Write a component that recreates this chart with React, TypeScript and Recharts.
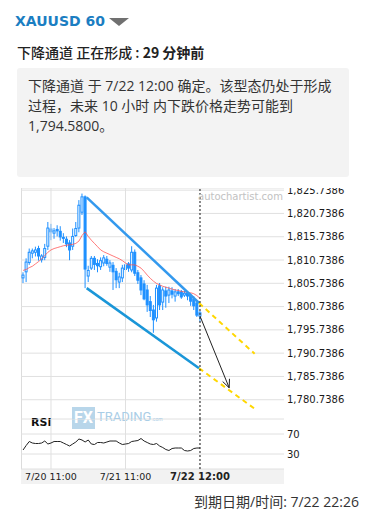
import React from "react";
import {
  ComposedChart,
  Bar,
  Line,
  XAxis,
  YAxis,
  CartesianGrid,
  ReferenceLine,
} from "recharts";

const BLUE = "#1e90ff";
const GRID = "#e0e0e0";
const AXIS_FONT = "DejaVu Sans, sans-serif";

// hourly candles, index 0 = 7/20 02:00
const OPEN = [1806.9, 1808.2, 1810.2, 1812.2, 1812.4, 1813.2, 1810.8, 1811.3, 1813.7, 1817.4, 1816.5, 1817.3, 1816.9, 1815.6, 1815.2, 1814.4, 1813.7, 1816.0, 1817.6, 1821.0, 1824.3, 1807.3, 1809.0, 1811.1, 1810.0, 1809.3, 1810.1, 1810.9, 1809.2, 1809.6, 1808.3, 1806.0, 1806.9, 1808.7, 1809.9, 1808.6, 1812.4, 1808.0, 1806.9, 1805.6, 1804.3, 1801.8, 1800.0, 1798.3, 1805.2, 1801.7, 1804.1, 1803.2, 1804.1, 1803.0, 1803.9, 1803.9, 1803.2, 1803.6, 1803.2, 1802.3, 1801.5, 1798.7];
const HIGH = [1808.1, 1811.1, 1813.2, 1813.2, 1813.6, 1813.8, 1812.0, 1814.2, 1818.9, 1818.5, 1817.6, 1818.2, 1818.0, 1816.5, 1815.8, 1815.0, 1817.5, 1818.9, 1823.6, 1825.0, 1824.6, 1809.5, 1811.6, 1811.6, 1810.9, 1811.3, 1811.8, 1811.6, 1810.7, 1810.3, 1809.0, 1808.0, 1809.7, 1810.2, 1810.3, 1813.7, 1813.0, 1808.6, 1807.5, 1806.4, 1805.4, 1803.0, 1801.1, 1805.4, 1805.8, 1804.9, 1805.0, 1805.0, 1804.9, 1804.5, 1804.5, 1804.3, 1804.1, 1804.0, 1803.6, 1803.0, 1802.1, 1799.8];
const LOW = [1805.8, 1806.0, 1809.7, 1811.1, 1811.5, 1810.6, 1810.2, 1810.7, 1812.9, 1815.0, 1815.3, 1815.8, 1814.9, 1814.4, 1813.5, 1810.7, 1812.9, 1815.7, 1816.7, 1820.4, 1804.7, 1806.0, 1808.6, 1808.6, 1808.1, 1808.6, 1809.4, 1809.5, 1808.2, 1804.3, 1804.7, 1804.7, 1806.0, 1808.0, 1808.2, 1808.1, 1807.3, 1805.6, 1803.2, 1802.1, 1799.6, 1798.5, 1795.1, 1797.5, 1800.0, 1800.0, 1800.5, 1801.5, 1802.5, 1801.8, 1803.0, 1802.4, 1802.8, 1802.1, 1800.9, 1800.0, 1798.5, 1797.5];
const CLOSE = [1807.5, 1810.3, 1812.4, 1812.7, 1812.9, 1811.6, 1811.6, 1813.2, 1817.6, 1816.8, 1817.0, 1817.0, 1815.7, 1815.4, 1814.2, 1812.9, 1815.8, 1817.5, 1822.5, 1824.3, 1808.8, 1808.5, 1811.1, 1809.8, 1809.5, 1810.6, 1811.2, 1810.0, 1810.1, 1808.2, 1806.5, 1807.1, 1809.0, 1809.7, 1809.0, 1812.4, 1807.9, 1806.4, 1804.3, 1802.4, 1801.1, 1799.9, 1797.9, 1804.7, 1801.1, 1804.3, 1803.0, 1804.3, 1803.4, 1803.9, 1803.5, 1802.8, 1803.6, 1803.0, 1801.9, 1800.9, 1798.9, 1799.4];
const MA = [1808.5, 1808.7, 1809.1, 1809.4, 1809.9, 1810.4, 1811.0, 1811.7, 1812.4, 1812.9, 1813.2, 1813.4, 1813.6, 1813.8, 1813.9, 1814.0, 1814.1, 1814.3, 1814.8, 1816.0, 1816.8, 1815.8, 1815.0, 1814.3, 1813.6, 1812.9, 1812.5, 1812.2, 1811.9, 1811.6, 1811.3, 1811.0, 1810.6, 1810.1, 1809.7, 1809.7, 1809.7, 1809.4, 1809.0, 1808.3, 1807.5, 1806.8, 1806.2, 1805.7, 1805.4, 1805.1, 1804.9, 1804.7, 1804.5, 1804.3, 1804.2, 1804.0, 1803.9, 1803.8, 1803.7, 1803.5, 1803.1, 1802.5];
const RSI = [38, 47, 55, 52, 51, 51, 52, 56, 50, 52, 55, 55, 55, 52, 49, 46, 50, 54, 60, 58, 54, 58, 50, 49, 53, 53, 52, 54, 56, 56, 56, 52, 49, 50, 51, 55, 56, 57, 61, 56, 53, 50, 49, 51, 46, 43, 39, 37, 41, 42, 42, 42, 37, 36, 37, 41, 42, 42];

const PRICE_TICKS = [1780.7386, 1785.7386, 1790.7386, 1795.7386, 1800.7386, 1805.7386, 1810.7386, 1815.7386, 1820.7386, 1825.7386];
const RSI_TICKS = [30, 70];
const TIME_TICKS = [9, 33, 57];
const TIME_LABELS = ["7/20 11:00", "7/21 11:00", "7/22 12:00"];
const DAY_LINES = [9, 33];
const NOW = 57;

const CHANNEL_UPPER = [{ t: 20.5, p: 1824.2 }, { t: 56.7, p: 1801.5 }];
const CHANNEL_LOWER = [{ t: 20.5, p: 1804.7 }, { t: 56.7, p: 1787.5 }];
const PROJ_UPPER = [{ t: 56.7, p: 1801.5 }, { t: 74.6, p: 1790.6 }];
const PROJ_LOWER = [{ t: 56.7, p: 1787.5 }, { t: 74.6, p: 1778.8 }];
const FORECAST = [{ t: 57, p: 1798.7 }, { t: 66.4, p: 1783.3 }];

const X_DOMAIN = [-0.66, 84.06];

const data = OPEN.map((o, i) => ({
  t: i,
  open: o,
  high: HIGH[i],
  low: LOW[i],
  close: CLOSE[i],
  range: [LOW[i], HIGH[i]],
  ma: MA[i],
  rsi: RSI[i],
}));

const seg = (pts: { t: number; p: number }[]) => pts.map((d) => ({ x: d.t, y: d.p }));

const Candle = (props: any) => {
  const { x, y, width, height, payload } = props;
  if (x == null || !payload) return null;
  const top0 = Math.min(y, y + height);
  const h = Math.abs(height);
  const { open, close, high, low } = payload;
  const k = h / (high - low || 1);
  const bTop = top0 + (high - Math.max(open, close)) * k;
  const bBot = top0 + (high - Math.min(open, close)) * k;
  const cx = x + width / 2;
  const up = close >= open;
  return (
    <g>
      <line x1={cx} x2={cx} y1={top0} y2={top0 + h} stroke={BLUE} strokeWidth={1} />
      <rect
        x={x + 0.5}
        y={bTop}
        width={width - 1}
        height={Math.max(bBot - bTop, 1)}
        fill={up ? "#fff" : BLUE}
        stroke={BLUE}
        strokeWidth={1}
      />
    </g>
  );
};

const Arrow = (props: any) => {
  const { x1, y1, x2, y2 } = props;
  const a = Math.atan2(y2 - y1, x2 - x1);
  const len = 9;
  const s = 0.42;
  const p1 = [x2 - len * Math.cos(a - s), y2 - len * Math.sin(a - s)];
  const p2 = [x2 - len * Math.cos(a + s), y2 - len * Math.sin(a + s)];
  return (
    <g>
      <line x1={x1} y1={y1} x2={x2} y2={y2} stroke="#222" strokeWidth={1} />
      <polyline
        points={`${p1[0]},${p1[1]} ${x2},${y2} ${p2[0]},${p2[1]}`}
        fill="none"
        stroke="#222"
        strokeWidth={1}
      />
    </g>
  );
};

const TimeTick = (props: any) => {
  const { x, y, payload } = props;
  const i = TIME_TICKS.indexOf(payload.value);
  const bold = payload.value === NOW;
  return (
    <text
      x={x}
      y={y + 11}
      textAnchor="middle"
      fontSize={bold ? 10 : 9.5}
      fontWeight={bold ? 700 : 400}
      fill="#222"
      fontFamily={AXIS_FONT}
    >
      {TIME_LABELS[i]}
    </text>
  );
};

const fmtPrice = (v: number) =>
  v.toLocaleString("en-US", { minimumFractionDigits: 4, maximumFractionDigits: 4 });

export default function App() {
  return (
    <div
      style={{
        position: "absolute",
        left: 0,
        top: 0,
        width: 374,
        height: 529,
        overflow: "hidden",
        background: "#fff",
        fontFamily: '"Open Sans", "Noto Sans CJK SC", sans-serif',
      }}
    >
      <div
        style={{
          position: "absolute",
          left: 15,
          top: 11,
          fontSize: 14,
          fontWeight: 700,
          color: "#1b7ec2",
          lineHeight: "20px",
          whiteSpace: "nowrap",
          fontFamily: AXIS_FONT,
        }}
      >
        XAUUSD 60
      </div>
      <svg style={{ position: "absolute", left: 109, top: 18 }} width={20} height={9}>
        <polygon points="0,0 20,0 10,8" fill="#707070" />
      </svg>
      <div
        style={{
          position: "absolute",
          left: 17,
          top: 42,
          fontSize: 14,
          color: "#222",
          lineHeight: "20px",
          whiteSpace: "nowrap",
          fontFamily: '"Noto Sans CJK SC", sans-serif',
        }}
      >
        <span style={{ fontWeight: 500 }}>下降通道 正在形成 : </span>
        <span style={{ fontWeight: 700 }}>29 分钟前</span>
      </div>
      <div
        style={{
          position: "absolute",
          left: 17,
          top: 68,
          width: 332,
          height: 109,
          background: "#f3f3f3",
          borderRadius: 3,
          boxSizing: "border-box",
          padding: "8px 0 0 11px",
          fontSize: 14,
          lineHeight: "20px",
          color: "#333",
          whiteSpace: "nowrap",
        }}
      >
        下降通道 于 7/22 12:00 确定。该型态仍处于形成
        <br />
        过程，未来 10 小时 内下跌价格走势可能到
        <br />
        1,794.5800。
      </div>

      {/* chart frame */}
      <div
        style={{
          position: "absolute",
          left: 21,
          top: 469,
          width: 263,
          height: 15,
          background: "#f2f2f2",
        }}
      />
      <div
        style={{
          position: "absolute",
          left: 21,
          top: 188,
          width: 0,
          height: 281,
          borderLeft: "1px solid #dcdcdc",
        }}
      />

      <div style={{ position: "absolute", left: 21, top: 188 }}>
        <ComposedChart
          width={345}
          height={231}
          data={data}
          margin={{ top: 0, right: 0, bottom: 0, left: 0 }}
        >
          <CartesianGrid vertical={false} stroke={GRID} />
          <XAxis dataKey="t" type="number" domain={X_DOMAIN} allowDataOverflow hide />
          <YAxis
            orientation="right"
            width={82}
            domain={[1776.6, 1826.2]}
            allowDataOverflow
            ticks={PRICE_TICKS}
            interval={0}
            tickFormatter={fmtPrice}
            tick={{ fontSize: 10, fill: "#1a1a1a", fontFamily: AXIS_FONT }}
            tickSize={0}
            tickMargin={3}
            axisLine={false}
            tickLine={false}
          />
          {DAY_LINES.map((d) => (
            <ReferenceLine key={d} x={d} stroke={GRID} />
          ))}
          <Bar
            dataKey="range"
            barSize={3}
            shape={(p: any) => <Candle {...p} />}
            isAnimationActive={false}
          />
          <Line
            dataKey="ma"
            type="linear"
            stroke="#ff4d4d"
            strokeOpacity={0.75}
            strokeWidth={1}
            dot={false}
            isAnimationActive={false}
          />
          <ReferenceLine segment={seg(CHANNEL_UPPER)} stroke="#3399ee" strokeWidth={2.5} />
          <ReferenceLine segment={seg(CHANNEL_LOWER)} stroke="#1a96d8" strokeWidth={2.5} />
          <ReferenceLine
            segment={seg(PROJ_UPPER)}
            stroke="#ffd700"
            strokeWidth={2}
            strokeDasharray="5 4"
          />
          <ReferenceLine
            segment={seg(PROJ_LOWER)}
            stroke="#ffd700"
            strokeWidth={2}
            strokeDasharray="5 4"
          />
          <ReferenceLine x={NOW} stroke="#111" strokeDasharray="2 2" />
          <ReferenceLine segment={seg(FORECAST)} shape={(p: any) => <Arrow {...p} />} />
        </ComposedChart>
      </div>

      <div
        style={{
          position: "absolute",
          left: 198,
          top: 191,
          fontSize: 10,
          lineHeight: "12px",
          color: "#c2c2c2",
          fontFamily: AXIS_FONT,
          whiteSpace: "nowrap",
        }}
      >
        autochartist.com
      </div>

      {/* FX TRADING watermark */}
      <div
        style={{
          position: "absolute",
          left: 72,
          top: 407,
          width: 23,
          height: 22,
          background: "#b8d6ea",
          color: "#fff",
          fontSize: 16,
          fontWeight: 700,
          lineHeight: "22px",
          textAlign: "center",
          fontFamily: "Roboto, sans-serif",
        }}
      >
        FX
      </div>
      <div
        style={{
          position: "absolute",
          left: 97,
          top: 409,
          fontSize: 13,
          lineHeight: "16px",
          color: "#a9cde6",
          fontFamily: "Roboto, sans-serif",
          whiteSpace: "nowrap",
        }}
      >
        TRADING<span style={{ fontSize: 5 }}>.com</span>
      </div>

      <div
        style={{
          position: "absolute",
          left: 31,
          top: 416,
          fontSize: 11,
          fontWeight: 700,
          lineHeight: "14px",
          color: "#111",
          fontFamily: AXIS_FONT,
        }}
      >
        RSI
      </div>

      <div style={{ position: "absolute", left: 21, top: 419 }}>
        <ComposedChart
          width={345}
          height={65}
          data={data}
          margin={{ top: 0, right: 0, bottom: 0, left: 0 }}
        >
          <CartesianGrid vertical={false} stroke={GRID} />
          <XAxis
            dataKey="t"
            type="number"
            domain={X_DOMAIN}
            allowDataOverflow
            ticks={TIME_TICKS}
            interval={0}
            height={15}
            tickSize={0}
            tickMargin={0}
            axisLine={false}
            tickLine={false}
            tick={<TimeTick />}
          />
          <YAxis
            orientation="right"
            width={82}
            domain={[0, 100]}
            ticks={RSI_TICKS}
            interval={0}
            tick={{ fontSize: 10, fill: "#1a1a1a", fontFamily: AXIS_FONT }}
            tickSize={0}
            tickMargin={3}
            axisLine={false}
            tickLine={false}
          />
          {DAY_LINES.map((d) => (
            <ReferenceLine key={d} x={d} stroke={GRID} />
          ))}
          <Line
            dataKey="rsi"
            type="linear"
            stroke="#222"
            strokeWidth={1}
            dot={false}
            isAnimationActive={false}
          />
          <ReferenceLine x={NOW} stroke="#111" strokeDasharray="2 2" />
        </ComposedChart>
      </div>

      <div
        style={{
          position: "absolute",
          left: 194,
          top: 492,
          fontSize: 14,
          lineHeight: "20px",
          color: "#333",
          whiteSpace: "nowrap",
        }}
      >
        到期日期/时间: 7/22 22:26
      </div>
    </div>
  );
}
